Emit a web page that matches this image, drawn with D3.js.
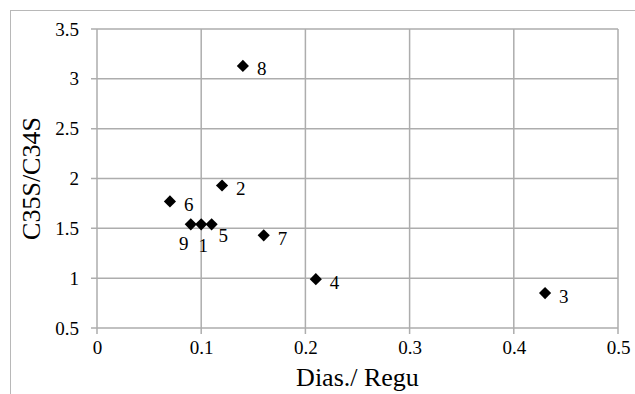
<!DOCTYPE html>
<html>
<head>
<meta charset="utf-8">
<script src="https://cdn.jsdelivr.net/npm/d3@7"></script>
<style>
	body { margin: 0; background: #fff; }
	svg text { font-family: "Liberation Serif", "Tinos", "Times New Roman", "DejaVu Serif", serif; fill: #000; }
</style>
</head>
<body>
<div id="chart-area"></div>
<script>

// Data
var ids = ["1", "2", "3", "4", "5", "6", "7", "8", "9"];
var dias = [0.10, 0.12, 0.43, 0.21, 0.11, 0.07, 0.16, 0.14, 0.09];
var ratio = [1.54, 1.93, 0.85, 0.99, 1.54, 1.77, 1.43, 3.13, 1.54];
var xTicks = [0, 0.1, 0.2, 0.3, 0.4, 0.5];
var yTicks = [0.5, 1, 1.5, 2, 2.5, 3, 3.5];

// where each point label sits (everything else is on the right)
var labelPlace = {"1": "below", "5": "belowRight", "9": "belowLeft"};

var points = ids.map(function(id, i) {
	return {id: id, x: dias[i], y: ratio[i]};
});

// SVG size
var W = 635,
	H = 394;
var margin = {top: 29, right: 17, bottom: 66, left: 97};
var width = W - margin.left - margin.right,
	height = H - margin.top - margin.bottom;

var serif = "'Liberation Serif', Tinos, 'Times New Roman', 'DejaVu Serif', serif";

var root = d3.select("#chart-area").append("svg")
	.attr("width", W).attr("height", H)
	.attr("font-family", serif);

// chart frame (runs off the right and bottom edge)
root.append("rect")
	.attr("x", 10.5).attr("y", 10.5)
	.attr("width", W + 10).attr("height", H + 10)
	.attr("fill", "none")
	.attr("stroke", "#b8b8b8")
	.attr("stroke-width", 1);

var svg = root.append("g")
	.attr("transform", "translate(" + margin.left + "," + margin.top + ")");

var xScale = d3.scaleLinear().domain([0, 0.5]).range([0, width]);
var yScale = d3.scaleLinear().domain([0.5, 3.5]).range([height, 0]);

var gridColor = "#adadad";

// gridlines
svg.selectAll(".vgrid")
	.data(xTicks)
	.enter()
	.append("line")
	.attr("class", "vgrid")
	.attr("x1", function(d) { return xScale(d); })
	.attr("x2", function(d) { return xScale(d); })
	.attr("y1", 0)
	.attr("y2", height + 6)
	.attr("stroke", gridColor)
	.attr("stroke-width", 1.5);

svg.selectAll(".hgrid")
	.data(yTicks)
	.enter()
	.append("line")
	.attr("class", "hgrid")
	.attr("x1", -6)
	.attr("x2", width)
	.attr("y1", function(d) { return yScale(d); })
	.attr("y2", function(d) { return yScale(d); })
	.attr("stroke", gridColor)
	.attr("stroke-width", 1.5);

// axes (only the labels, lines are the grid above)
var xAxis = d3.axisBottom(xScale).tickValues(xTicks).tickSize(0).tickPadding(13)
	.tickFormat(function(d) { return d3.format("")(+d.toFixed(1)); });
var yAxis = d3.axisLeft(yScale).tickValues(yTicks).tickSize(0).tickPadding(18)
	.tickFormat(function(d) { return d3.format("")(d); });

svg.append("g")
	.attr("class", "axis xAxis")
	.attr("transform", "translate(0," + height + ")")
	.call(xAxis);
svg.append("g")
	.attr("class", "axis yAxis")
	.call(yAxis);

svg.selectAll(".axis .domain").remove();
svg.selectAll(".axis").attr("font-family", serif).attr("font-size", 19);
svg.selectAll(".axis text").attr("fill", "#000");

// axis titles
svg.append("text")
	.attr("text-anchor", "middle")
	.attr("x", width / 2)
	.attr("y", height + 58)
	.attr("font-size", 26)
	.text("Dias./ Regu");

svg.append("text")
	.attr("text-anchor", "middle")
	.attr("transform", "translate(" + (40 - margin.left) + "," + yScale(2.0) + ") rotate(-90)")
	.attr("font-size", 26)
	.text("C35S/C34S");

// diamonds
var diamond = d3.symbol().type(d3.symbolSquare).size(74);
svg.selectAll(".pt")
	.data(points)
	.enter()
	.append("path")
	.attr("class", "pt")
	.attr("d", diamond)
	.attr("transform", function(d) {
		return "translate(" + xScale(d.x) + "," + yScale(d.y) + ") rotate(45)";
	})
	.attr("fill", "#000");

// point labels
var offsets = {
	right: [14, 3, "start"],
	below: [2, 21, "middle"],
	belowRight: [7, 11, "start"],
	belowLeft: [-7, 19, "middle"]
};
svg.selectAll(".lbl")
	.data(points)
	.enter()
	.append("text")
	.attr("class", "lbl")
	.attr("font-size", 19)
	.attr("dominant-baseline", "central")
	.attr("x", function(d) { return xScale(d.x) + offsets[labelPlace[d.id] || "right"][0]; })
	.attr("y", function(d) { return yScale(d.y) + offsets[labelPlace[d.id] || "right"][1]; })
	.attr("text-anchor", function(d) { return offsets[labelPlace[d.id] || "right"][2]; })
	.text(function(d) { return d.id; });

</script>
</body>
</html>
